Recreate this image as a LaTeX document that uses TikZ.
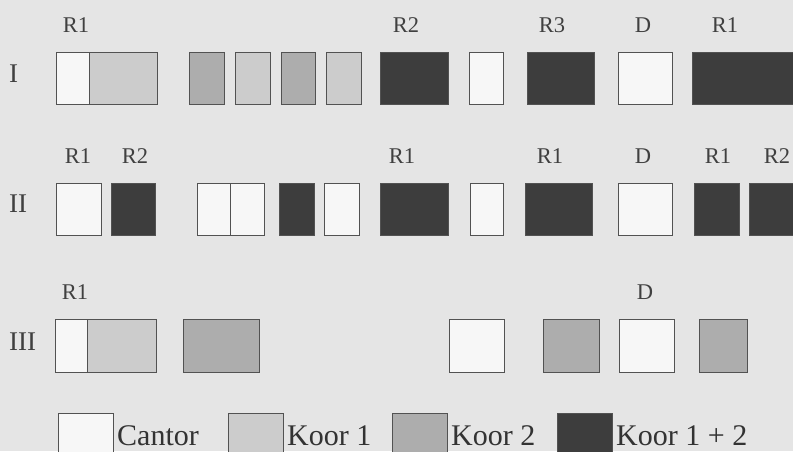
\documentclass[tikz,border=0pt]{standalone}
\usepackage{fontspec}
\setmainfont{Liberation Serif}
\definecolor{achter}{gray}{0.9}
\definecolor{wit}{gray}{0.97}
\definecolor{licht}{gray}{0.8}
\definecolor{middel}{gray}{0.68}
\definecolor{donker}{gray}{0.24}
\definecolor{lijn}{gray}{0.32}
\begin{document}
\begin{tikzpicture}[x=1pt, y=-1pt,
	vak/.style={draw=lijn, line width=1pt},
	cantor/.style={vak, fill=wit},
	kooreen/.style={vak, fill=licht},
	koortwee/.style={vak, fill=middel},
	koorbeide/.style={vak, fill=donker},
	stem/.style={font=\fontsize{22.5}{25}\selectfont, text=black!75, inner sep=0pt},
	rij/.style={font=\fontsize{27}{30}\selectfont, text=black!75, anchor=west, inner sep=0pt},
	legenda/.style={font=\fontsize{30}{34}\selectfont, text=black!80, anchor=base west, inner sep=0pt}]
	\clip (0,0) rectangle (793,451);
	\fill[achter] (0,0) rectangle (793,451);
	
	% --- Rij I ---
	\node[rij] (rijI) at (9,74) {I};
	\foreach \a/\b/\s in {56/89/cantor, 89/157/kooreen, 189/224/koortwee, 235/270/kooreen,
		281/315/koortwee, 326/361/kooreen, 380/448/koorbeide, 469/503/cantor,
		527/594/koorbeide, 618/672/cantor, 692/800/koorbeide}
		\draw[\s] (\a,52) rectangle (\b,104);
	\foreach \x/\t/\n in {76/R1/stemIa, 406/R2/stemIb, 552/R3/stemIc, 643/D/stemId, 725/R1/stemIe}
		\node[stem] (\n) at (\x,25) {\t};
	
	% --- Rij II ---
	\node[rij] (rijII) at (9,204) {II};
	\foreach \a/\b/\s in {56/101/cantor, 111/155/koorbeide, 197/230/cantor, 230/264/cantor,
		279/314/koorbeide, 324/359/cantor, 380/448/koorbeide, 470/503/cantor,
		525/592/koorbeide, 618/672/cantor, 694/739/koorbeide, 749/800/koorbeide}
		\draw[\s] (\a,183) rectangle (\b,235);
	\foreach \x/\t/\n in {78/R1/stemIIa, 135/R2/stemIIb, 402/R1/stemIIc, 550/R1/stemIId,
		643/D/stemIIe, 718/R1/stemIIf, 777/R2/stemIIg}
		\node[stem] (\n) at (\x,156) {\t};
	
	% --- Rij III ---
	\node[rij] (rijIII) at (9,342) {III};
	\foreach \a/\b/\s in {55/87/cantor, 87/156/kooreen, 183/259/koortwee, 449/504/cantor,
		543/599/koortwee, 619/674/cantor, 699/747/koortwee}
		\draw[\s] (\a,319) rectangle (\b,372);
	\foreach \x/\t/\n in {75/R1/stemIIIa, 645/D/stemIIIb}
		\node[stem] (\n) at (\x,292) {\t};
	
	% --- Legenda ---
	\foreach \a/\b/\s/\t/\n in {58/113/cantor/Cantor/legA, 228/283/kooreen/Koor 1/legB,
		392/447/koortwee/Koor 2/legC, 557/612/koorbeide/Koor 1 + 2/legD} {
		\draw[\s] (\a,413) rectangle (\b,470);
		\node[legenda] (\n) at ([xshift=4pt]\b,445) {\t};
	}
\end{tikzpicture}
\end{document}
